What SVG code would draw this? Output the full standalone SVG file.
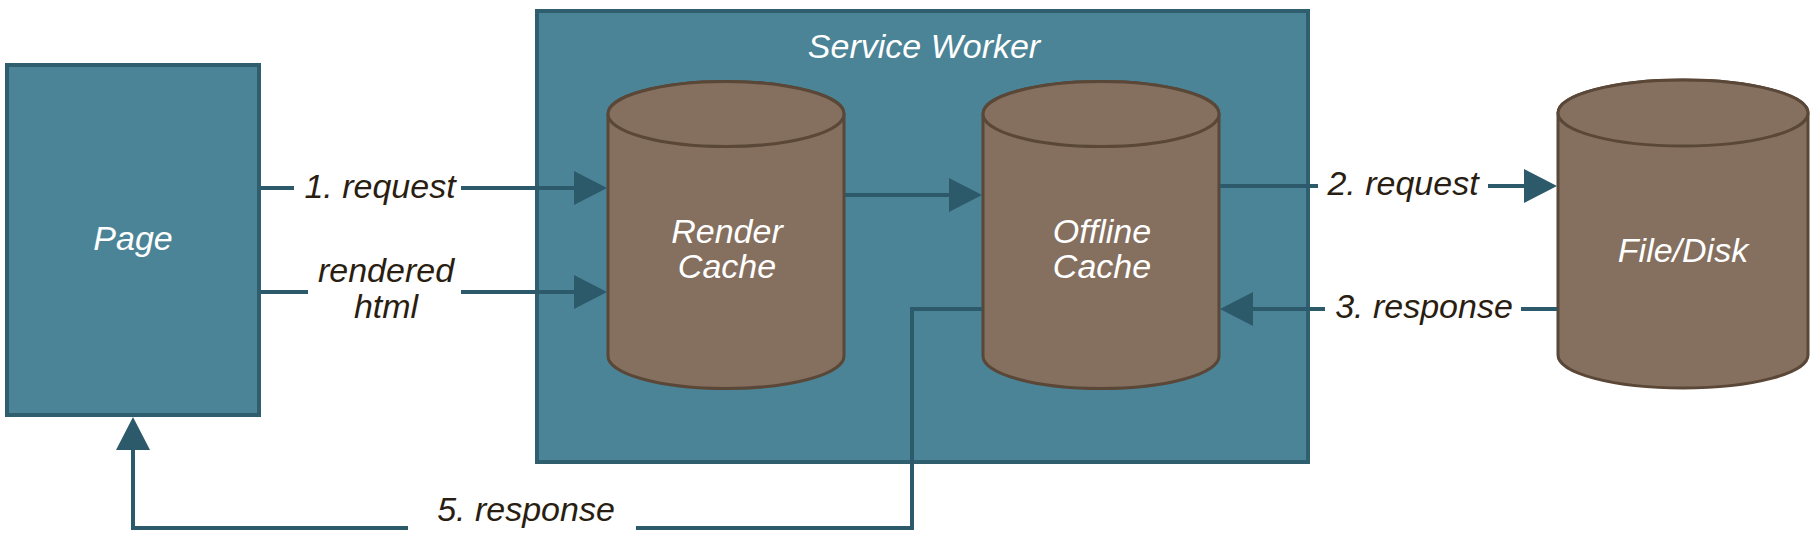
<svg xmlns="http://www.w3.org/2000/svg" width="1820" height="548" viewBox="0 0 1820 548">
<defs>
<style>
.box{fill:#4b8496;stroke:#2f5f6f;stroke-width:4}
.cyl{fill:#85705f;stroke:#5a4737;stroke-width:3}
.conn{fill:none;stroke:#2d5a6b;stroke-width:4}
.lbl{font-family:"Liberation Sans",Arial,sans-serif;font-style:italic;font-size:34px;fill:#2a1e12;text-anchor:middle}
.wt{font-family:"Liberation Sans",Arial,sans-serif;font-style:italic;font-size:34px;fill:#ffffff;text-anchor:middle}
</style>
<marker id="ah" markerUnits="userSpaceOnUse" markerWidth="33" markerHeight="34" refX="0" refY="17" orient="auto" viewBox="0 0 33 34">
<path d="M0,0 L33,17 L0,34 Z" fill="#2d5a6b"/>
</marker>
</defs>
<rect width="1820" height="548" fill="#ffffff"/>
<g id="page">
<rect class="box" x="7" y="65" width="252" height="350"/>
<text class="wt" x="133" y="250">Page</text>
</g>
<g id="service-worker">
<rect class="box" x="537" y="11" width="771" height="451"/>
<text class="wt" x="924" y="58">Service Worker</text>
</g>
<g id="render-cache">
<path class="cyl" d="M608,114 L608,356 A118,32.5 0 0 0 844,356 L844,114 A118,32.5 0 0 0 608,114 Z"/>
<ellipse class="cyl" cx="726" cy="114" rx="118" ry="32.5"/>
<text class="wt" x="727" y="243">Render</text>
<text class="wt" x="727" y="278">Cache</text>
</g>
<g id="offline-cache">
<path class="cyl" d="M983,114 L983,356 A118,32.5 0 0 0 1219,356 L1219,114 A118,32.5 0 0 0 983,114 Z"/>
<ellipse class="cyl" cx="1101" cy="114" rx="118" ry="32.5"/>
<text class="wt" x="1102" y="243">Offline</text>
<text class="wt" x="1102" y="278">Cache</text>
</g>
<g id="file-disk">
<path class="cyl" d="M1558,113 L1558,355 A125,33 0 0 0 1808,355 L1808,113 A125,33 0 0 0 1558,113 Z"/>
<ellipse class="cyl" cx="1683" cy="113" rx="125" ry="33"/>
<text class="wt" x="1683" y="262">File/Disk</text>
</g>
<g id="connectors">
<path class="conn" d="M261,188 H294 M461,188 H574" marker-end="url(#ah)"/>
<path class="conn" d="M261,292 H308 M461,292 H574" marker-end="url(#ah)"/>
<path class="conn" d="M845,195 H949" marker-end="url(#ah)"/>
<path class="conn" d="M1220,186 H1318 M1488,186 H1524" marker-end="url(#ah)"/>
<path class="conn" d="M1557,309 H1521 M1325,309 H1253" marker-end="url(#ah)"/>
<path class="conn" d="M982,309 H912 V528 H636 M408,528 H133 V450" marker-end="url(#ah)"/>
<text class="lbl" x="380" y="198">1. request</text>
<text class="lbl" x="386" y="282">rendered</text>
<text class="lbl" x="386" y="318">html</text>
<text class="lbl" x="1403" y="195">2. request</text>
<text class="lbl" x="1424" y="318">3. response</text>
<text class="lbl" x="526" y="521">5. response</text>
</g>
</svg>
